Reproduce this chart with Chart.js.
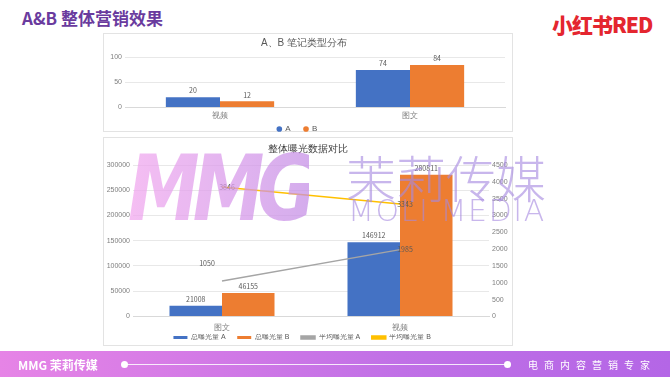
<!DOCTYPE html>
<html lang="zh">
<head>
<meta charset="UTF-8">
<script src="https://cdn.jsdelivr.net/npm/chart.js@4.4.0/dist/chart.umd.min.js"></script>
<title>A&B 整体营销效果</title>
<style>
  body { margin: 0; width: 670px; height: 377px; overflow: hidden; background: #fff; position: relative;
         font-family: "Noto Sans CJK SC", "Noto Sans", sans-serif; }
  .titolo { position: absolute; left: 22px; top: 5px; font-size: 17px; font-weight: 700; color: #6a3b9e; }
  .logo { position: absolute; left: 552px; top: 9px; font-size: 21px; font-weight: 900; color: #e4262f; letter-spacing: -1px; }
  .pannello { position: absolute; left: 103px; width: 410px; border: 1px solid #e3e3e3; box-sizing: border-box; }
  .wrap { position: absolute; left: 103px; }
  #wm { position: absolute; left: 0; top: 0; width: 670px; height: 377px; pointer-events: none; }
  #wm .mmg { position: absolute; left: 128px; top: 136px; font: 900 italic 72px "DejaVu Sans", sans-serif; letter-spacing: -7px;
             transform: scaleY(1.25); transform-origin: top left;
             background: linear-gradient(90deg, #f2a6ef, #c48de6); -webkit-background-clip: text; background-clip: text; color: transparent; opacity: .72; }
  #wm .cn { position: absolute; left: 346px; top: 140px; font-size: 50px; font-weight: 300; color: #a78ae0; opacity: .62; }
  #wm .en { position: absolute; left: 348px; top: 193px; font: 200 30px "DejaVu Sans", sans-serif; color: #a78ae0; opacity: .62; letter-spacing: 1.6px; }
  #footer { position: absolute; left: 0; top: 351px; width: 670px; height: 26px; background: linear-gradient(90deg, #e684e6, #c070e6 60%, #b466e6); color: #fff; }
  #footer .brand { position: absolute; left: 18px; top: 5px; font-size: 12px; font-weight: 700; }
  #footer .rule { position: absolute; left: 124px; top: 13px; width: 383px; height: 1px; background: rgba(255,255,255,.85); }
  #footer .dot { position: absolute; top: 10px; width: 7px; height: 7px; border-radius: 50%; background: #fff; }
  #footer .slogan { position: absolute; left: 528px; top: 6px; font-size: 10px; letter-spacing: 6px; }
</style>
</head>
<body>
  <div class="titolo">A&amp;B 整体营销效果</div>
  <div class="logo">小红书RED</div>

  <div class="pannello" style="top:33px;height:99px"></div>
  <div class="wrap" style="top:33px"><canvas id="graficoNote" width="410" height="110"></canvas></div>

  <div class="pannello" style="top:137px;height:209px"></div>
  <div class="wrap" style="top:137px"><canvas id="graficoEsposizione" width="410" height="220"></canvas></div>

  <div id="wm">
    <div class="mmg">MMG</div>
    <div class="cn">茉莉传媒</div>
    <div class="en">MOLI MEDIA</div>
  </div>

  <div id="footer">
    <span class="brand">MMG 茉莉传媒</span>
    <div class="dot" style="left:121px"></div>
    <div class="rule"></div>
    <div class="dot" style="left:504px"></div>
    <span class="slogan">电商内容营销专家</span>
  </div>

<script>
  // dati
  var tipiNote = ['视频', '图文'];
  var noteA = [20, 74];
  var noteB = [12, 84];

  var categorieEsposizione = ['图文', '视频'];
  var totaleA = [21008, 146912];
  var totaleB = [46155, 280811];
  var mediaA = [1050, 1985];
  var mediaB = [3846, 3343];

  var blu = '#4472C4', arancio = '#ED7D31', grigio = '#A5A5A5', giallo = '#FFC000';
  var testo = '#7f7f7f';

  // numeri senza separatore delle migliaia
  var semplice = function(v) { return String(v); };

  // voci di legenda con un po' di spazio dopo il testo (padding 0 per restare compatti in verticale)
  var vociSpaziate = function(chart) {
    var voci = Chart.defaults.plugins.legend.labels.generateLabels(chart);
    voci.forEach(function(v) { v.text = v.text + '      '; });
    return voci;
  };

  // plugin per scrivere i valori sopra barre e punti
  var etichette = {
    id: 'etichette',
    afterDatasetsDraw: function(chart) {
      var ctx = chart.ctx;
      ctx.save();
      ctx.font = '7px "Noto Sans CJK SC", sans-serif';
      ctx.fillStyle = '#595959';
      ctx.textAlign = 'center';
      chart.data.datasets.forEach(function(ds, i) {
        chart.getDatasetMeta(i).data.forEach(function(el, j) {
          if (ds.type === 'line') {
            ctx.textBaseline = 'middle';
            var dx = ds.labelDx ? ds.labelDx[j] : 5;
            var dy = ds.labelDy ? ds.labelDy[j] : 0;
            ctx.fillText(ds.data[j], el.x + dx, el.y + dy);
          } else {
            ctx.textBaseline = 'bottom';
            ctx.fillText(ds.data[j], el.x, el.y - 3);
          }
        });
      });
      ctx.restore();
    }
  };

  // sposta la legenda un po' più su, vicino alle etichette dell'asse x
  var legendaSu = {
    id: 'legendaSu',
    afterLayout: function(chart) {
      chart.legend.top -= 6;
      chart.legend.bottom -= 6;
    }
  };

  // grafico 1: tipologia note
  new Chart('graficoNote', {
    type: 'bar',
    data: {
      labels: tipiNote,
      datasets: [
        { label: 'A', data: noteA, backgroundColor: blu },
        { label: 'B', data: noteB, backgroundColor: arancio }
      ]
    },
    options: {
      responsive: false,
      animation: false,
      layout: { padding: { right: 8 } },
      datasets: { bar: { categoryPercentage: 0.57, barPercentage: 1 } },
      plugins: {
        title: { display: true, text: 'A、B 笔记类型分布', color: '#595959', font: { size: 10, weight: 'normal' }, padding: { top: 4, bottom: 8 } },
        legend: { position: 'bottom', labels: { usePointStyle: true, pointStyle: 'circle', boxWidth: 4, boxHeight: 4, color: '#595959',
                  font: { size: 8 }, padding: 0, generateLabels: vociSpaziate } },
        tooltip: { enabled: false }
      },
      scales: {
        x: { grid: { display: false, drawTicks: false }, border: { color: '#d9d9d9' }, ticks: { color: testo, font: { size: 8 }, padding: 4 } },
        y: { min: 0, max: 100, ticks: { stepSize: 50, color: testo, font: { size: 7 } },
             grid: { color: '#e8e8e8', drawTicks: false }, border: { display: false },
             afterFit: function(s) { s.width = 22; } }
      }
    },
    plugins: [etichette]
  });

  // grafico 2: esposizione totale e media
  new Chart('graficoEsposizione', {
    data: {
      labels: categorieEsposizione,
      datasets: [
        { type: 'bar', label: '总曝光量 A', data: totaleA, backgroundColor: blu, yAxisID: 'y', order: 1 },
        { type: 'bar', label: '总曝光量 B', data: totaleB, backgroundColor: arancio, yAxisID: 'y', order: 1 },
        { type: 'line', label: '平均曝光量 A', data: mediaA, borderColor: grigio, backgroundColor: grigio, borderWidth: 1.5,
          pointRadius: 0, yAxisID: 'y1', order: 0, labelDx: [-15, 5], labelDy: [-18, 0] },
        { type: 'line', label: '平均曝光量 B', data: mediaB, borderColor: giallo, backgroundColor: giallo, borderWidth: 1.5,
          pointRadius: 0, yAxisID: 'y1', order: 0 }
      ]
    },
    options: {
      responsive: false,
      animation: false,
      layout: { padding: { right: 0 } },
      datasets: { bar: { categoryPercentage: 0.59, barPercentage: 1 } },
      plugins: {
        title: { display: true, text: '整体曝光数据对比', color: '#404040', font: { size: 10, weight: 'normal' }, padding: { top: 6, bottom: 10 } },
        legend: { position: 'bottom', labels: { boxWidth: 14, boxHeight: 3, color: '#595959', font: { size: 7 }, padding: 0,
                  generateLabels: vociSpaziate,
                  sort: function(a, b) { return a.datasetIndex - b.datasetIndex; } } },
        tooltip: { enabled: false }
      },
      scales: {
        x: { grid: { display: false, drawTicks: false }, border: { color: '#d9d9d9' }, ticks: { color: testo, font: { size: 8 }, padding: 7 } },
        y: { position: 'left', min: 0, max: 300000, ticks: { stepSize: 50000, color: testo, font: { size: 7 }, callback: semplice },
             grid: { color: '#e8e8e8', drawTicks: false }, border: { display: false },
             afterFit: function(s) { s.width = 30; } },
        y1: { position: 'right', min: 0, max: 4500, ticks: { stepSize: 500, color: testo, font: { size: 7 }, callback: semplice },
              grid: { display: false, drawTicks: false }, border: { display: false },
              afterFit: function(s) { s.width = 24; } }
      }
    },
    plugins: [etichette, legendaSu]
  });
</script>
</body>
</html>
